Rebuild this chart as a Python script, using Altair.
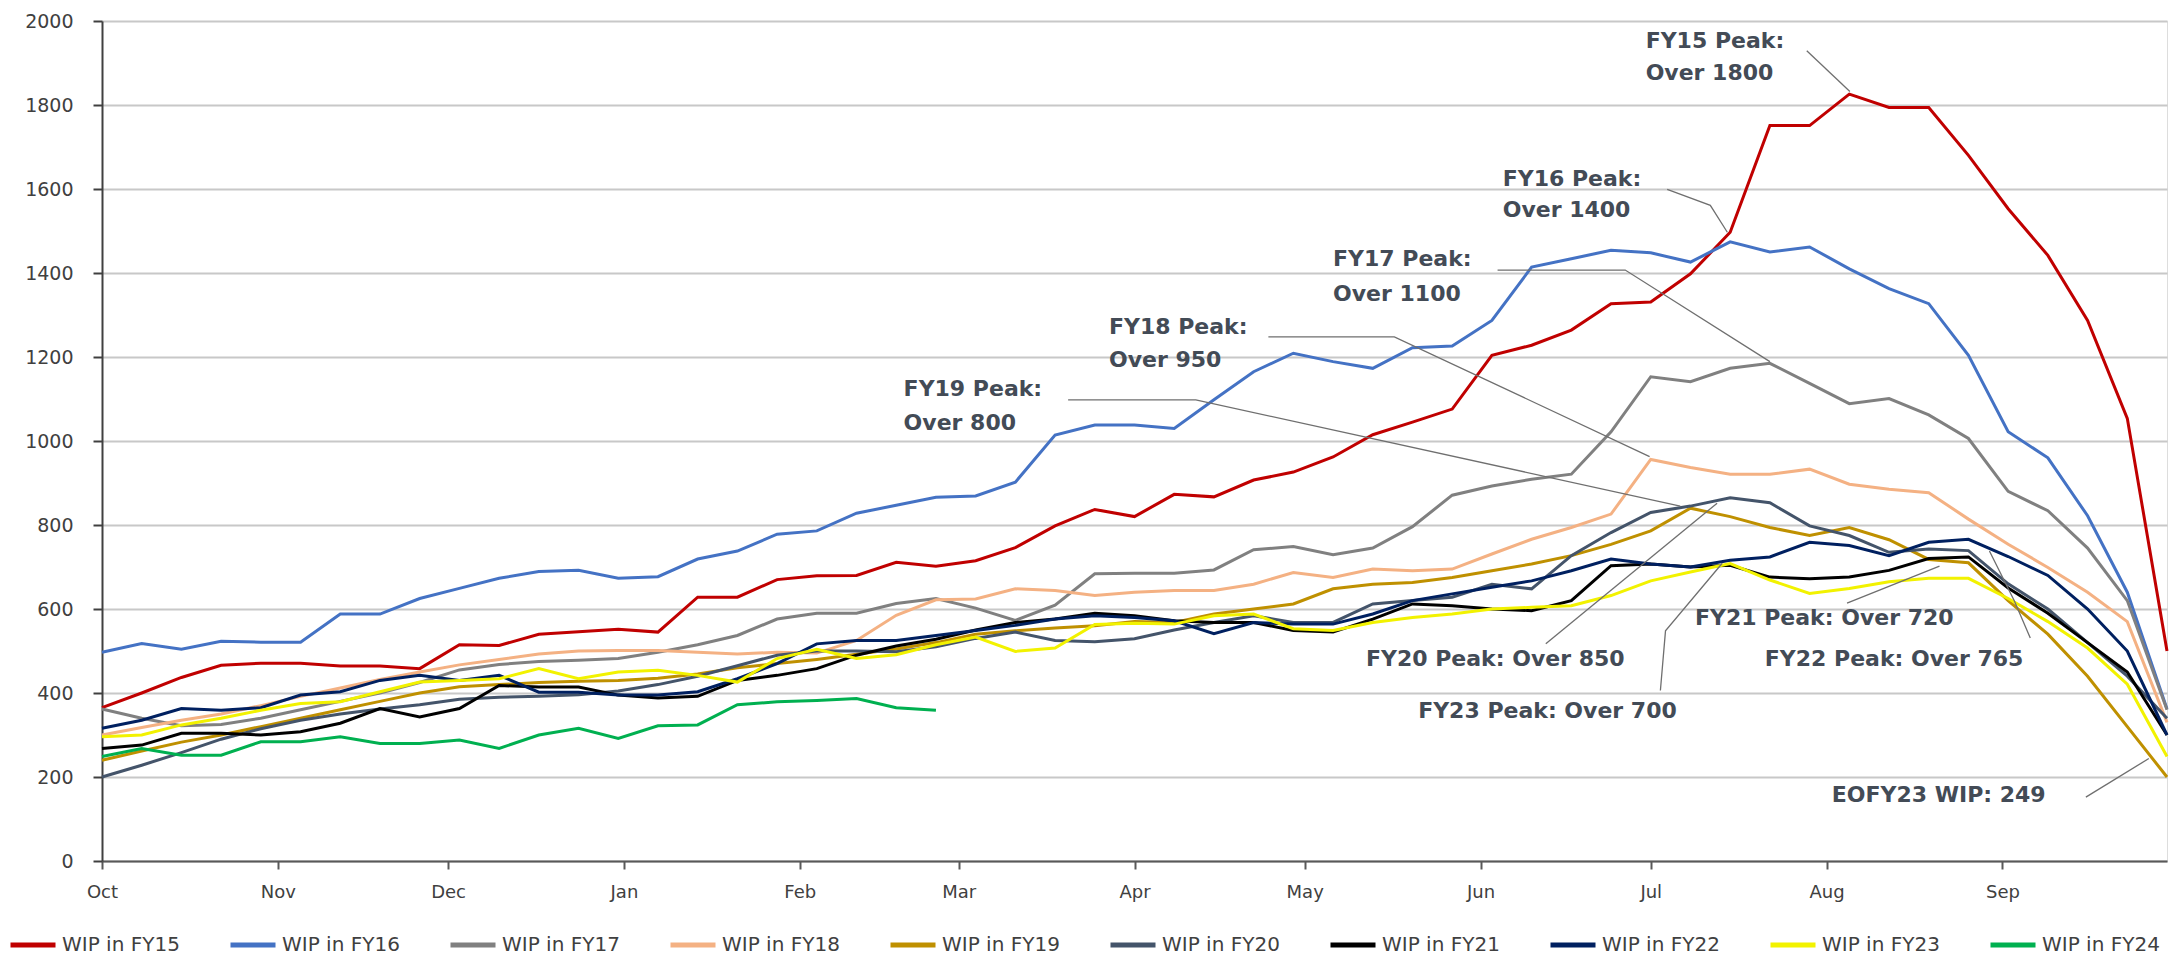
import altair as alt
import pandas as pd

# ---------------- data ----------------
start = pd.Timestamp("2022-10-01")
weeks = pd.date_range(start, periods=53, freq="7D")

series_names = ["WIP in FY15", "WIP in FY16", "WIP in FY17", "WIP in FY18", "WIP in FY19",
                "WIP in FY20", "WIP in FY21", "WIP in FY22", "WIP in FY23", "WIP in FY24"]
series_colors = ["#C00000", "#4472C4", "#808080", "#F4B183", "#BF9000",
                 "#44546A", "#000000", "#002060", "#F2F200", "#00B050"]

fy15 = [365, 400, 437, 466, 471, 471, 464, 464, 458, 515, 513, 540, 546, 552, 545, 628, 628, 670,
        679, 680, 711, 702, 715, 746, 798, 837, 820, 873, 867, 907, 926, 962, 1015, 1045, 1076,
        1204, 1228, 1264, 1327, 1331, 1398, 1497, 1751, 1751, 1826, 1794, 1794, 1680, 1553, 1442,
        1287, 1054, 500]
fy16 = [497, 518, 504, 523, 521, 521, 588, 588, 625, 649, 673, 689, 692, 673, 677, 719, 738, 778,
        786, 828, 847, 866, 869, 902, 1014, 1038, 1038, 1030, 1098, 1165, 1209, 1189, 1173, 1222,
        1226, 1287, 1414, 1434, 1454, 1448, 1426, 1474, 1450, 1462, 1410, 1363, 1327, 1204, 1022,
        960, 822, 640, 362]
fy17 = [362, 340, 322, 325, 340, 360, 380, 400, 425, 455, 468, 475, 478, 482, 497, 515, 537, 576,
        590, 590, 613, 625, 602, 573, 609, 684, 685, 685, 693, 741, 749, 729, 745, 796, 871, 893,
        909, 921, 1022, 1153, 1141, 1173, 1185, 1137, 1089, 1101, 1062, 1006, 880, 834, 745, 620, 360]
fy18 = [300, 318, 335, 350, 370, 392, 412, 432, 450, 467, 480, 493, 500, 501, 501, 497, 493, 497,
        495, 525, 585, 622, 624, 648, 644, 632, 640, 644, 644, 659, 687, 675, 695, 691, 695, 731,
        766, 794, 826, 956, 937, 921, 921, 933, 897, 885, 877, 814, 754, 699, 640, 570, 330]
fy19 = [240, 262, 283, 300, 320, 340, 360, 380, 400, 415, 420, 425, 428, 430, 435, 445, 460, 470,
        480, 492, 505, 520, 540, 548, 555, 560, 570, 568, 588, 600, 612, 648, 659, 663, 675, 691,
        707, 727, 754, 786, 840, 820, 794, 775, 794, 765, 718, 710, 620, 540, 440, 320, 200]
fy20 = [200, 228, 258, 290, 315, 335, 350, 362, 372, 385, 390, 392, 396, 405, 420, 440, 465, 490,
        500, 500, 498, 510, 530, 545, 525, 522, 529, 550, 568, 584, 568, 568, 612, 620, 628, 659,
        648, 727, 782, 830, 845, 865, 853, 798, 775, 735, 743, 739, 660, 600, 520, 440, 340]
fy21 = [268, 276, 304, 304, 300, 308, 328, 363, 343, 363, 418, 414, 414, 395, 388, 392, 430, 442,
        458, 490, 512, 528, 550, 568, 576, 590, 584, 572, 568, 568, 549, 545, 576, 612, 608, 600,
        596, 620, 703, 707, 700, 704, 676, 672, 676, 692, 720, 724, 650, 590, 520, 450, 300]
fy22 = [316, 335, 363, 359, 365, 395, 403, 430, 442, 430, 442, 402, 402, 395, 395, 403, 434, 470,
        517, 525, 525, 537, 549, 561, 576, 584, 580, 572, 541, 568, 564, 564, 588, 620, 636, 652,
        667, 691, 719, 707, 700, 716, 724, 759, 751, 727, 759, 766, 725, 680, 600, 500, 300]
fy23 = [296, 300, 324, 340, 359, 375, 379, 403, 426, 430, 434, 458, 434, 450, 454, 442, 426, 482,
        504, 482, 491, 515, 533, 499, 507, 563, 566, 564, 584, 588, 553, 549, 568, 580, 588, 600,
        604, 608, 632, 667, 688, 708, 669, 637, 649, 665, 673, 673, 625, 570, 507, 421, 249]
fy24 = [249, 268, 252, 252, 284, 284, 296, 280, 280, 288, 268, 300, 316, 292, 322, 324, 372, 379,
        382, 387, 365, 359]

all_values = [fy15, fy16, fy17, fy18, fy19, fy20, fy21, fy22, fy23, fy24]

month_starts = [(2022, 10), (2022, 11), (2022, 12), (2023, 1), (2023, 2), (2023, 3), (2023, 4),
                (2023, 5), (2023, 6), (2023, 7), (2023, 8), (2023, 9)]

# annotation texts: (text, day offset from Oct 1, value)
ann_text = [
    ("FY15 Peak:", 272.1, 1953), ("Over 1800", 272.1, 1877),
    ("FY16 Peak:", 246.9, 1623), ("Over 1400", 246.9, 1549),
    ("FY17 Peak:", 217.0, 1433), ("Over 1100", 217.0, 1350),
    ("FY18 Peak:", 177.5, 1272), ("Over 950", 177.5, 1193),
    ("FY19 Peak:", 141.3, 1125), ("Over 800", 141.3, 1042),
    ("FY20 Peak: Over 850", 222.8, 482),
    ("FY23 Peak: Over 700", 232.0, 358),
    ("FY21 Peak: Over 720", 280.8, 579),
    ("FY22 Peak: Over 765", 293.1, 482),
    ("EOFY23 WIP: 249", 304.9, 157),
]
# leader lines: (id, day offset, value) in drawing order
ann_lines = [
    ("l15", 300.5, 1929), ("l15", 308.1, 1832),
    ("l16", 275.9, 1599), ("l16", 283.5, 1561), ("l16", 286.5, 1497),
    ("l17", 246.0, 1407), ("l17", 268.5, 1407), ("l17", 294.0, 1189),
    ("l18", 205.6, 1248), ("l18", 227.8, 1248), ("l18", 272.8, 963),
    ("l19", 170.3, 1098), ("l19", 192.8, 1098), ("l19", 278.2, 845),
    ("l20", 254.5, 517), ("l20", 284.7, 852),
    ("l23", 274.7, 406), ("l23", 275.6, 548), ("l23", 285.6, 709),
    ("l21", 307.6, 614), ("l21", 323.9, 702),
    ("l22", 339.9, 531), ("l22", 337.1, 619), ("l22", 332.7, 738),
    ("le", 349.7, 152), ("le", 360.8, 244),
]

# ---------------- tables ----------------
rows = []
for name, vals in zip(series_names, all_values):
    for d, v in zip(weeks, vals):
        rows.append({"date": d.strftime("%Y-%m-%d"), "value": v, "series": name})
df = pd.DataFrame(rows)


def iso(d):
    return (start + pd.Timedelta(days=d)).strftime("%Y-%m-%dT%H:%M:%SZ")


text_df = pd.DataFrame([{"label": t, "date": iso(d), "value": v} for t, d, v in ann_text])
line_df = pd.DataFrame([{"id": i, "seq": n, "date": iso(d), "value": v}
                        for n, (i, d, v) in enumerate(ann_lines)])

# ---------------- chart ----------------
x_enc = alt.X(
    "date:T",
    title=None,
    scale=alt.Scale(type="utc",
                    domain=[alt.DateTime(year=2022, month=10, date=1, utc=True),
                            alt.DateTime(year=2023, month=9, date=30, utc=True)]),
    axis=alt.Axis(values=[alt.DateTime(year=y, month=m, date=1, utc=True) for y, m in month_starts],
                  labelExpr="utcFormat(datum.value, '%b')", grid=False,
                  domainColor="#595959", domainWidth=2, tickColor="#595959", tickWidth=2,
                  tickSize=8, labelFont="DejaVu Sans", labelFontSize=18, labelColor="#404040",
                  labelPadding=14, labelFlush=False),
)
y_enc = alt.Y(
    "value:Q",
    title=None,
    scale=alt.Scale(domain=[0, 2000], nice=False),
    axis=alt.Axis(values=list(range(0, 2001, 200)), format="d", grid=True, gridColor="#C8C8C8",
                  gridWidth=2, domainColor="#404040", domainWidth=2, tickColor="#404040",
                  tickWidth=2, tickSize=9, labelFont="DejaVu Sans", labelFontSize=19,
                  labelColor="#404040", labelPadding=20),
)
color_enc = alt.Color(
    "series:N",
    scale=alt.Scale(domain=series_names, range=series_colors),
    legend=alt.Legend(orient="none", legendX=-94, legendY=899, direction="horizontal",
                      columns=10, columnPadding=40, title=None, symbolType="stroke",
                      symbolStrokeWidth=5, symbolSize=2025, labelFont="DejaVu Sans",
                      labelFontSize=20, labelColor="#404040", labelOffset=4, labelLimit=400),
)

base = alt.Chart(df).mark_line(strokeWidth=3).encode(x=x_enc, y=y_enc, color=color_enc)
layers = [base.transform_filter(alt.datum.series == n) for n in series_names]

leaders = alt.Chart(line_df).mark_line(color="#6F6F6F", strokeWidth=1.3).encode(
    x="date:T", y="value:Q", detail="id:N", order="seq:Q")

texts = alt.Chart(text_df).mark_text(
    align="left", baseline="middle", font="DejaVu Sans", fontSize=22, fontWeight="bold",
    color="#434B56").encode(x="date:T", y="value:Q", text="label:N")

chart = alt.layer(*layers, leaders, texts).properties(
    width=2065, height=840,
    padding={"left": 0, "top": 4, "right": 0, "bottom": 0},
).configure_view(stroke=None).configure(background="white")

chart.save("out.html", embed_options={"renderer": "svg", "actions": False})
